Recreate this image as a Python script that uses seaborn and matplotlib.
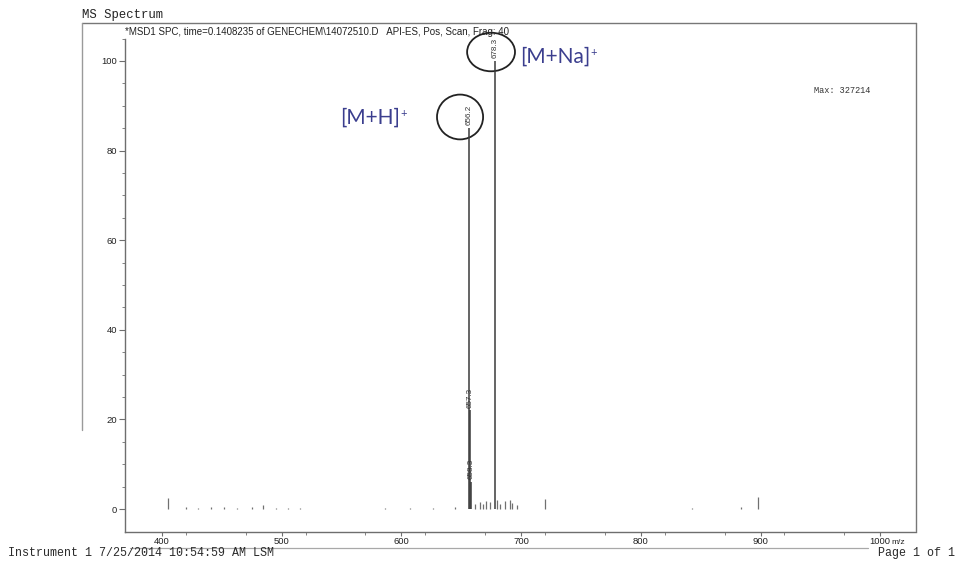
import matplotlib
matplotlib.use("Agg")
import matplotlib.pyplot as plt
from matplotlib.patches import Ellipse
from matplotlib.lines import Line2D
import seaborn as sns
import numpy as np

# ---- spectrum data (m/z, relative abundance %) ----
labeled_mz = [656.2, 657.3, 658.3, 678.3]
labeled_int = [85.0, 22.0, 6.0, 100.0]

minor_mz = [405.0, 420.0, 430.0, 441.0, 452.0, 463.0, 475.0, 484.0, 495.0, 505.0,
            515.0, 586.0, 607.0, 626.0, 645.0, 661.5, 665.7, 668.5, 670.7, 674.0,
            680.0, 682.4, 686.5, 690.7, 692.5, 696.6, 720.0, 843.0, 884.0, 898.0]
minor_int = [2.5, 0.4, 0.3, 0.5, 0.4, 0.3, 0.5, 1.0, 0.3, 0.3,
             0.3, 0.3, 0.3, 0.3, 0.4, 1.2, 1.5, 1.2, 1.8, 1.5,
             2.0, 1.2, 1.8, 2.0, 1.3, 0.8, 2.2, 0.3, 0.4, 2.6]

x_ticks = [400, 500, 600, 700, 800, 900, 1000]
y_ticks = [0, 20, 40, 60, 80, 100]

header = "*MSD1 SPC, time=0.1408235 of GENECHEM\\14072510.D   API-ES, Pos, Scan, Frag: 40"
max_text = "Max: 327214"
footer_left = "Instrument 1 7/25/2014 10:54:59 AM LSM"
footer_right = "Page 1 of 1"
ion_labels = ["[M+H]", "[M+Na]"]

# ---- figure ----
sns.set_theme(style="white")
plt.rcParams["font.family"] = ["Liberation Sans", "DejaVu Sans"]

W, H = 961, 562
fig = plt.figure(figsize=(W / 100, H / 100), dpi=100)
fig.patch.set_facecolor("white")

def fx(px):
    return px / W

def fy(py):
    return 1 - py / H

ax = fig.add_axes([fx(125), fy(532), fx(916) - fx(125), fy(22) - fy(532)])
ax.set_facecolor("white")
ax.set_xlim(369.1, 1029.9)
ax.set_ylim(-5.13, 108.7)

peak_color = "#3a3a3a"
axis_color = "#6e6e6e"

ax.vlines(minor_mz, 0, minor_int, color="#707070", lw=0.9)
ax.vlines(labeled_mz, 0, labeled_int, color=peak_color, lw=1.1)

# peak value labels above each apex
for m, h in zip(labeled_mz, labeled_int):
    ax.annotate(f"{m:.1f}", (m, h), xytext=(0, 2), textcoords="offset points",
                rotation=90, ha="center", va="bottom", fontsize=5.8, color="#333333")

# ion annotations with circles round the apex labels
ion_color = "#3b3e8e"
ion_font = ["Lato", "DejaVu Sans"]
na_mz, na_int = labeled_mz[3], labeled_int[3]
h_mz, h_int = labeled_mz[0], labeled_int[0]
ax.add_patch(Ellipse((na_mz - 3.4, na_int + 2.0), 40.0, 8.6, fill=False,
                     ec="#222222", lw=1.3, clip_on=False))
ax.add_patch(Ellipse((h_mz - 7.2, h_int + 2.5), 38.5, 10.0, fill=False,
                     ec="#222222", lw=1.3, clip_on=False))
t_na = ax.text(na_mz + 20.8, na_int + 0.9, ion_labels[1], fontsize=15, color=ion_color,
               family=ion_font, ha="left", va="center")
t_h = ax.text(h_mz - 107.5, h_int + 2.3, ion_labels[0], fontsize=15, color=ion_color,
              family=ion_font, ha="left", va="center")
for t in (t_na, t_h):
    ax.annotate("+", xy=(1, 0.72), xycoords=t, xytext=(0.3, 0), textcoords="offset points",
                fontsize=8, color=ion_color, family=ion_font, ha="left", va="center")

# axes styling
for side in ("top", "right"):
    ax.spines[side].set_visible(False)
for side in ("left", "bottom"):
    ax.spines[side].set_color(axis_color)
    ax.spines[side].set_linewidth(1.0)
ax.spines["left"].set_bounds(-5.13, 105)

ax.set_xticks(x_ticks)
ax.set_xticklabels([str(t) for t in x_ticks])
ax.set_xticks(np.arange(420, 1000, 50), minor=True)
ax.set_yticks(y_ticks)
ax.set_yticklabels([str(t) for t in y_ticks])
ax.set_yticks(np.arange(0, 106, 5), minor=True)
ax.tick_params(axis="x", which="major", direction="out", length=3, width=0.8,
               color=axis_color, labelsize=6.8, labelcolor="#222222", pad=0.5)
ax.tick_params(axis="y", which="major", direction="out", length=4, width=0.8,
               color=axis_color, labelsize=6.8, labelcolor="#222222", pad=1.5)
ax.tick_params(axis="both", which="minor", direction="out", length=2, width=0.6,
               color=axis_color)
ax.tick_params(axis="x", which="both", bottom=True)
ax.tick_params(axis="y", which="both", left=True)

# header / info text
ax.text(0.0, 0.99, header, transform=ax.transAxes, fontsize=7.0, color="#222222",
        ha="left", va="top", family=["Liberation Sans Narrow", "Liberation Sans"])
ax.text(0.871, 0.866, max_text, transform=ax.transAxes, fontsize=6.2, color="#333333",
        ha="left", va="center", family="Liberation Mono")
fig.text(fx(891), fy(542), "m/z", fontsize=6.0, color="#222222", ha="left", va="center")

# outer page frame
frame = dict(color="#777777", lw=1.0, transform=fig.transFigure)
fig.add_artist(Line2D([fx(82), fx(916)], [fy(23), fy(23)], **frame))
fig.add_artist(Line2D([fx(916), fx(916)], [fy(23), fy(531)], **frame))
fig.add_artist(Line2D([fx(82), fx(82)], [fy(23), fy(430)], color="#9a9a9a", lw=1.0,
                      transform=fig.transFigure))
fig.add_artist(Line2D([fx(130), fx(868)], [fy(548), fy(548)], color="#a8a8a8", lw=0.9,
                      transform=fig.transFigure))

fig.text(fx(82), fy(15), "MS Spectrum", fontsize=8.8, family="Liberation Mono",
         color="#222222", ha="left", va="center")
fig.text(fx(8), fy(553), footer_left, fontsize=8.4, family="Liberation Mono",
         color="#2a2a2a", ha="left", va="center")
fig.text(fx(955), fy(553), footer_right, fontsize=8.4, family="Liberation Mono",
         color="#2a2a2a", ha="right", va="center")

fig.savefig("out.png", dpi=100, facecolor="white")
